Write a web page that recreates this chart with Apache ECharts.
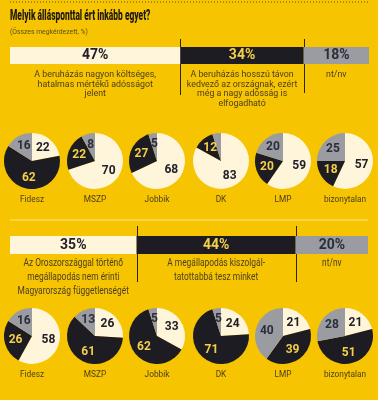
<!DOCTYPE html>
<html>
<head>
<meta charset="utf-8">
<script src="https://cdn.jsdelivr.net/npm/echarts@6/dist/echarts.min.js"></script>
<style>
html,body{margin:0;padding:0;background:#F6C400;}
#c{width:378px;height:400px;}
</style>
</head>
<body>
<div id="c"></div>
<script>
// ---- data ----
const parties = ['Fidesz', 'MSZP', 'Jobbik', 'DK', 'LMP', 'bizonytalan'];
const q1Totals = [47, 34, 18];
const q1Texts = [
  'A beruházás nagyon költséges,\nhatalmas mértékű adósságot\njelent',
  'A beruházás hosszú távon\nkedvező az országnak, ezért\nmég a nagy adósság is\nelfogadható',
  'nt/nv'
];
const q1Cream = [22, 70, 68, 83, 59, 57];
const q1Black = [62, 22, 27, 12, 20, 18];
const q1Gray  = [16, 8, 5, 5, 20, 25];

const q2Totals = [35, 44, 20];
const q2Texts = [
  'Az Oroszországgal történő\nmegállapodás nem érinti\nMagyarország függetlenségét',
  'A megállapodás kiszolgál-\ntatottabbá tesz minket',
  'nt/nv'
];
const q2Cream = [58, 26, 33, 24, 21, 21];
const q2Black = [26, 61, 62, 71, 39, 51];
const q2Gray  = [16, 13, 5, 5, 40, 28];

const titleText = 'Melyik állásponttal ért inkább egyet?';
const subtitleText = '(Összes megkérdezett, %)';

// ---- style ----
const YELLOW = '#F6C400';
const CREAM = '#FEF5DA';
const BLACK = '#1D1C22';
const GRAY = '#9B9CA1';
const SEG_COLORS = [CREAM, BLACK, GRAY];
const PCT_COLORS = ['#222028', '#F3CF4A', '#2A2D3B'];
const NARROW = "'Roboto','Liberation Sans',sans-serif";

const pieX = [32, 95, 157, 221, 283, 345];
const pieR = 28;

function barSeries(totals, gridIndex) {
  return totals.map((v, i) => ({
    type: 'bar', stack: 'q' + gridIndex, xAxisIndex: gridIndex, yAxisIndex: gridIndex,
    barWidth: '100%', silent: true, animation: false,
    data: [v],
    itemStyle: { color: SEG_COLORS[i] },
    label: {
      show: true, position: 'inside', formatter: v + '%',
      fontFamily: NARROW, fontWeight: 'bold', fontSize: 14, color: PCT_COLORS[i]
    }
  }));
}

function pieSeries(cream, black, gray, cy) {
  return parties.map((p, i) => ({
    type: 'pie', center: [pieX[i], cy], radius: pieR, startAngle: 90, clockwise: true,
    silent: true, animation: false,
    label: { show: true, position: 'inside', formatter: '{c}', fontFamily: NARROW,
             fontWeight: 'bold', fontSize: 12 },
    labelLine: { show: false },
    data: [
      { value: cream[i], itemStyle: { color: CREAM }, label: { color: PCT_COLORS[0] } },
      { value: black[i], itemStyle: { color: BLACK }, label: { color: PCT_COLORS[1] } },
      { value: gray[i], itemStyle: { color: GRAY }, label: { color: PCT_COLORS[2] } }
    ]
  }));
}

const sum = a => a.reduce((s, x) => s + x, 0);

const chart = echarts.init(document.getElementById('c'), null, { renderer: 'canvas' });
chart.setOption({
  backgroundColor: YELLOW,
  animation: false,
  grid: [
    { left: 10, width: 359, top: 47, height: 17 },
    { left: 10, width: 358, top: 236, height: 18 }
  ],
  xAxis: [
    { type: 'value', gridIndex: 0, min: 0, max: sum(q1Totals), show: false },
    { type: 'value', gridIndex: 1, min: 0, max: sum(q2Totals), show: false }
  ],
  yAxis: [
    { type: 'category', gridIndex: 0, data: ['q1'], show: false },
    { type: 'category', gridIndex: 1, data: ['q2'], show: false }
  ],
  series: [].concat(
    barSeries(q1Totals, 0),
    barSeries(q2Totals, 1),
    pieSeries(q1Cream, q1Black, q1Gray, 161),
    pieSeries(q2Cream, q2Black, q2Gray, 336)
  )
});

// ---- annotations (positions derived from the axes) ----
const g = [];
g.push({ type: 'line', shape: { x1: 10, y1: 2, x2: 368, y2: 2 },
  style: { stroke: '#5C4B16', lineWidth: 1, lineDash: [1, 2] } });
g.push({ type: 'text', x: 10, y: 16, scaleX: 0.6,
  style: { text: titleText, font: "900 14px " + NARROW, fill: '#1F1A12', textVerticalAlign: 'middle' } });
g.push({ type: 'text', x: 10, y: 32, scaleX: 0.85,
  style: { text: subtitleText, font: "8px " + NARROW, fill: '#5E4F22', textVerticalAlign: 'middle' } });
g.push({ type: 'line', shape: { x1: 10, y1: 220, x2: 368, y2: 220 },
  style: { stroke: '#FAD865', lineWidth: 1.5 } });

function rowAnnot(gridIndex, totals, texts, barTop, barBottom, textTop, lineH, fontSize, sx, divAbove, divBelow) {
  let cum = 0;
  totals.forEach((v, i) => {
    const xa = chart.convertToPixel({ gridIndex: gridIndex }, [cum, 0])[0];
    const xb = chart.convertToPixel({ gridIndex: gridIndex }, [cum + v, 0])[0];
    g.push({ type: 'text', x: (xa + xb) / 2, y: textTop, scaleX: sx,
      style: { text: texts[i], font: fontSize + 'px ' + NARROW, fill: '#4A3F1E',
               textAlign: 'center', textVerticalAlign: 'top', lineHeight: lineH } });
    cum += v;
    if (i < totals.length - 1) {
      const xd = Math.round(xb) + 0.5;
      g.push({ type: 'line', shape: { x1: xd, y1: barTop - divAbove, x2: xd, y2: barBottom + divBelow[i] },
        style: { stroke: '#2A2418', lineWidth: 1 } });
    }
  });
}
rowAnnot(0, q1Totals, q1Texts, 47, 64, 70, 9.6, 9.5, 0.93, 8, [31, 29]);
rowAnnot(1, q2Totals, q2Texts, 236, 254, 257, 13.6, 10.5, 0.8, 10, [28, 28]);

function names(cy) {
  parties.forEach((p, i) => {
    g.push({ type: 'text', x: pieX[i], y: cy + pieR + 11, scaleX: 0.92,
      style: { text: p, font: '9px ' + NARROW, fill: '#4A3F1E', textAlign: 'center', textVerticalAlign: 'middle' } });
  });
}
names(161);
names(336);

chart.setOption({ graphic: g });
</script>
</body>
</html>
